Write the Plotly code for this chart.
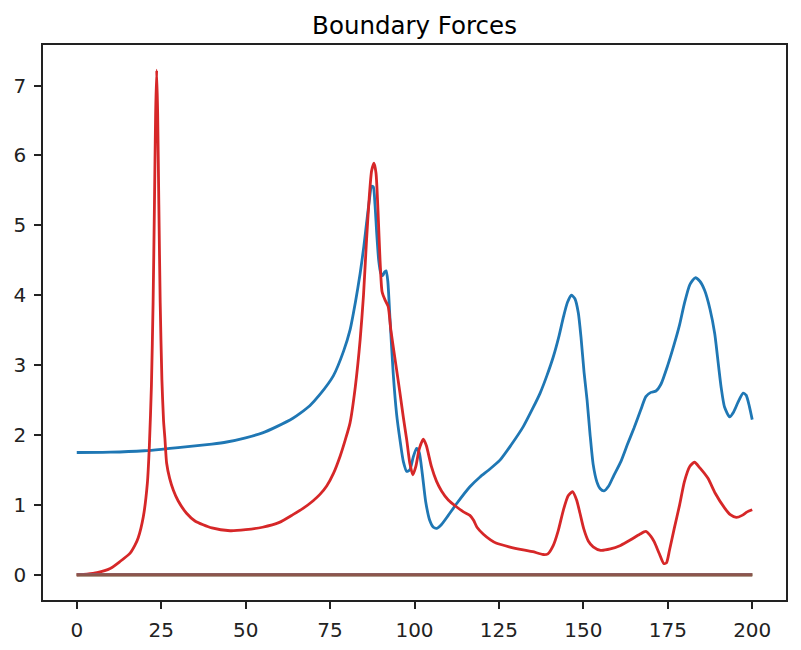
import plotly.graph_objects as go

title = "Boundary Forces"
x_ticks = [0, 25, 50, 75, 100, 125, 150, 175, 200]
y_ticks = [0, 1, 2, 3, 4, 5, 6, 7]

blue_x = [0, 10, 20, 25, 30, 40, 44.4, 50, 55, 59.2, 64, 66.1, 69, 72, 76, 79, 80.9, 82.5, 83.9, 85,
          85.8, 86.6, 87.3, 87.8, 88.3, 88.8, 89.4, 90, 90.6, 91.1, 91.6, 92.1, 92.7, 93.7, 94.7, 95.7,
          96.7, 97.7, 98.6, 99.6, 100.6, 101.4, 102.3, 103.3, 104.5, 105.6, 106.6, 108, 110, 112.5,
          116.4, 119.4, 122, 125.3, 128.5, 132.2, 135, 137.2, 139.2, 141.1, 142.8, 144.1, 145.3, 146.5,
          147.5, 148.5, 149.3, 150.2, 151.1, 152, 152.9, 154, 155, 156.1, 157.5, 159, 161.1, 163, 165,
          167, 168.5, 170, 171.5, 173, 175, 176.9, 178.5, 179.9, 181.5, 183.1, 184.5, 185.9, 187.5,
          188.9, 190, 190.8, 191.8, 193.3, 194.5, 195.8, 197.3, 198.2, 199.2, 200]
blue_y = [1.75, 1.755, 1.775, 1.795, 1.82, 1.87, 1.90, 1.96, 2.03, 2.12, 2.24, 2.31, 2.42, 2.58, 2.85,
          3.2, 3.5, 3.9, 4.31, 4.7, 5.03, 5.35, 5.56, 5.55, 5.3, 4.9, 4.5, 4.32, 4.28, 4.33, 4.35, 4.2,
          3.7, 2.88, 2.3, 1.93, 1.62, 1.48, 1.5, 1.68, 1.81, 1.75, 1.45, 1.05, 0.78, 0.68, 0.665, 0.72,
          0.85, 1.02, 1.26, 1.40, 1.50, 1.64, 1.85, 2.12, 2.38, 2.60, 2.85, 3.12, 3.42, 3.69, 3.9, 4.0,
          3.95, 3.75, 3.4, 2.9, 2.5, 2.0, 1.58, 1.33, 1.23, 1.20, 1.27, 1.42, 1.62, 1.86, 2.10, 2.36,
          2.55, 2.61, 2.63, 2.73, 3.0, 3.30, 3.58, 3.88, 4.15, 4.25, 4.2, 4.07, 3.8, 3.45, 3.0, 2.68,
          2.4, 2.26, 2.33, 2.47, 2.6, 2.57, 2.4, 2.22]

red_x = [0, 3, 6, 9.9, 12.8, 15.8, 17.2, 18.2, 19.7, 20.9, 21.5, 22.1, 22.6, 23.0, 23.35, 23.66,
         23.95, 24.3, 24.7, 25.2, 25.7, 26.1, 26.6, 27.5, 28.6, 30, 32.5, 35, 40, 45.4, 50, 55, 60,
         64, 67, 70, 72, 74, 76, 78, 79.5, 80.9, 82.5, 83.9, 84.9, 85.8, 86.6, 87.3, 88.0, 88.6, 89.2,
         89.8, 90.4, 91.3, 92.2, 93, 94.5, 95.7, 96.7, 97.7, 98.6, 99.5, 100.4, 101.4, 102.6, 103.5,
         105, 106.5, 108, 110, 112.5, 114.5, 116.4, 117.5, 118.5, 120.4, 122.5, 124.3, 128, 132.2, 135,
         138.1, 139.5, 141.1, 142.5, 144.1, 145.5, 146.8, 148, 149, 150.1, 151.5, 152.9, 155.1, 158,
         161, 164, 166.7, 168.5, 170, 171, 172.5, 173.8, 174.6, 175.5, 176.9, 178.5, 179.9, 181.5,
         182.9, 184.5, 186.9, 189, 191.9, 193.5, 195.3, 197, 198.5, 200]
red_y = [0.0, 0.01, 0.03, 0.09, 0.19, 0.31, 0.42, 0.53, 0.83, 1.31, 1.85, 2.7, 3.9, 5.3, 6.6, 7.22,
         6.6, 5.3, 3.9, 2.8, 2.2, 1.95, 1.6, 1.38, 1.21, 1.06, 0.88, 0.77, 0.67, 0.63, 0.645, 0.68,
         0.75, 0.86, 0.95, 1.06, 1.15, 1.27, 1.45, 1.7, 1.93, 2.17, 2.7, 3.36, 4.0, 4.79, 5.4, 5.78,
         5.89, 5.75, 5.2, 4.5, 4.05, 3.93, 3.84, 3.5, 3.0, 2.60, 2.25, 1.93, 1.6, 1.43, 1.55, 1.8,
         1.94, 1.85, 1.55, 1.34, 1.2, 1.07, 0.97, 0.9, 0.85, 0.78, 0.68, 0.58, 0.5, 0.45, 0.40, 0.355,
         0.33, 0.29, 0.3, 0.42, 0.62, 0.93, 1.13, 1.19, 1.07, 0.88, 0.66, 0.48, 0.40, 0.35, 0.37,
         0.42, 0.50, 0.58, 0.62, 0.55, 0.47, 0.3, 0.16, 0.17, 0.35, 0.66, 1.0, 1.33, 1.55, 1.61,
         1.53, 1.38, 1.17, 0.95, 0.86, 0.82, 0.85, 0.9, 0.93]

zero_x = [0, 200]
zero_y = [0, 0]

fig = go.Figure()
fig.add_trace(go.Scatter(x=blue_x, y=blue_y, mode="lines",
                         line=dict(color="#1f77b4", width=2.8, shape="spline", smoothing=0.6)))
for c in ["#ff7f0e", "#2ca02c"]:
    fig.add_trace(go.Scatter(x=zero_x, y=zero_y, mode="lines", line=dict(color=c, width=2.8)))
fig.add_trace(go.Scatter(x=red_x, y=red_y, mode="lines",
                         line=dict(color="#d62728", width=2.8, shape="spline", smoothing=0.6)))
for c in ["#9467bd", "#8c564b"]:
    fig.add_trace(go.Scatter(x=zero_x, y=zero_y, mode="lines", line=dict(color=c, width=2.8)))

axis_common = dict(showgrid=False, zeroline=False, showline=True, linecolor="#222222", linewidth=1.5,
                   mirror=True, ticks="outside", ticklen=7, tickwidth=1.5, tickcolor="#222222",
                   ticklabelstandoff=4, automargin=False,
                   tickfont=dict(family="DejaVu Sans", size=20, color="#222222"))
fig.update_layout(
    width=801, height=650,
    margin=dict(l=43, r=15, t=45, b=50),
    paper_bgcolor="white", plot_bgcolor="white",
    showlegend=False,
    title=dict(text=title, x=0.5, xref="paper", y=1 - 25 / 650, yref="container",
               xanchor="center", yanchor="middle",
               font=dict(family="DejaVu Sans", size=24.5, color="black")),
    xaxis=dict(range=[-10, 210], tickvals=x_ticks, **axis_common),
    yaxis=dict(range=[-0.361, 7.581], tickvals=y_ticks, **axis_common),
)
fig.write_html("out.html")
